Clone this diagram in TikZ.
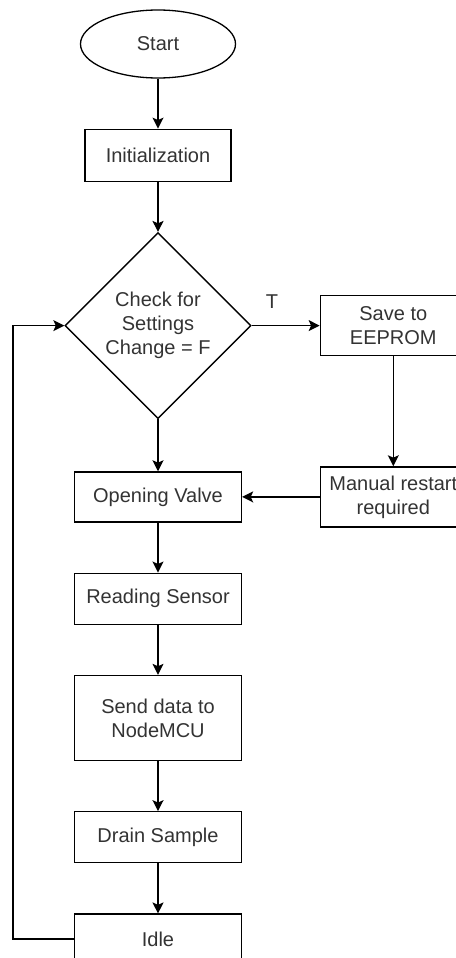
\documentclass[tikz,border=0pt]{standalone}
\usepackage{fontspec}
\setmainfont{Liberation Sans}
\usepackage{tikz}
\usetikzlibrary{positioning,shapes.geometric,arrows.meta}
\definecolor{txtgray}{HTML}{333333}
\tikzset{
every path/.style={line width=0.65pt}
, every node/.style={font=\fontsize{10pt}{12pt}\selectfont, text=txtgray}
, terminal/.style={draw, ellipse, inner sep=0, minimum width=77.5pt, minimum height=34pt}
, processbox/.style={draw, inner sep=0, minimum width=83.5pt, minimum height=25.5pt, align=center}
, sidebox/.style={processbox, minimum width=73pt, minimum height=30pt}
, decision/.style={draw, diamond, inner sep=0, minimum size=93pt, align=center}
, flow/.style={-{Stealth[length=5.5pt, width=5.5pt, inset=1.2pt]}}}

\begin{document}
\begin{tikzpicture}[node distance=25pt]
\useasboundingbox (0,0) rectangle (227.5pt,-479pt);
\node[terminal] at (79pt,-22pt) (start) {Start};
\node[processbox, below=25pt of start, minimum width=73pt, minimum height=26pt] (init) {Initialization};
\node[decision, below=25pt of init] (check) {Check for\\ Settings\\ Change = F};
\node[sidebox, right=34pt of check] (save) {Save to\\ EEPROM};
\node[processbox, below=26pt of check, minimum height=25pt] (valve) {Opening Valve};
\node[sidebox, below=55pt of save] (restart) {Manual restart\\ required};
\node[processbox, below=of valve] (sensor) {Reading Sensor};
\node[processbox, below=of sensor, minimum height=42.5pt] (send) {Send data to\\ NodeMCU};
\node[processbox, below=of send] (drain) {Drain Sample};
\node[processbox, below=of drain, minimum height=25pt] (idle) {Idle};
\coordinate (loop) at (6.5pt,0);
% main flow
\draw [flow] (start) -- (init);
\draw [flow] (init) -- (check);
\draw [flow] (check) -- (valve);
\draw [flow] (valve) -- (sensor);
\draw [flow] (sensor) -- (send);
\draw [flow] (send) -- (drain);
\draw [flow] (drain) -- (idle);
% settings branch
\draw [flow] (check.east) -- node [pos=0.3, above=5pt] {T} (save.west);
\draw [flow] (save) -- (restart);
\draw [flow] (restart.west) -- (valve.east);
% back to the check
\draw [flow] (idle.west) -- (idle.west -| loop) |- (check.west);
\end{tikzpicture}
\end{document}
